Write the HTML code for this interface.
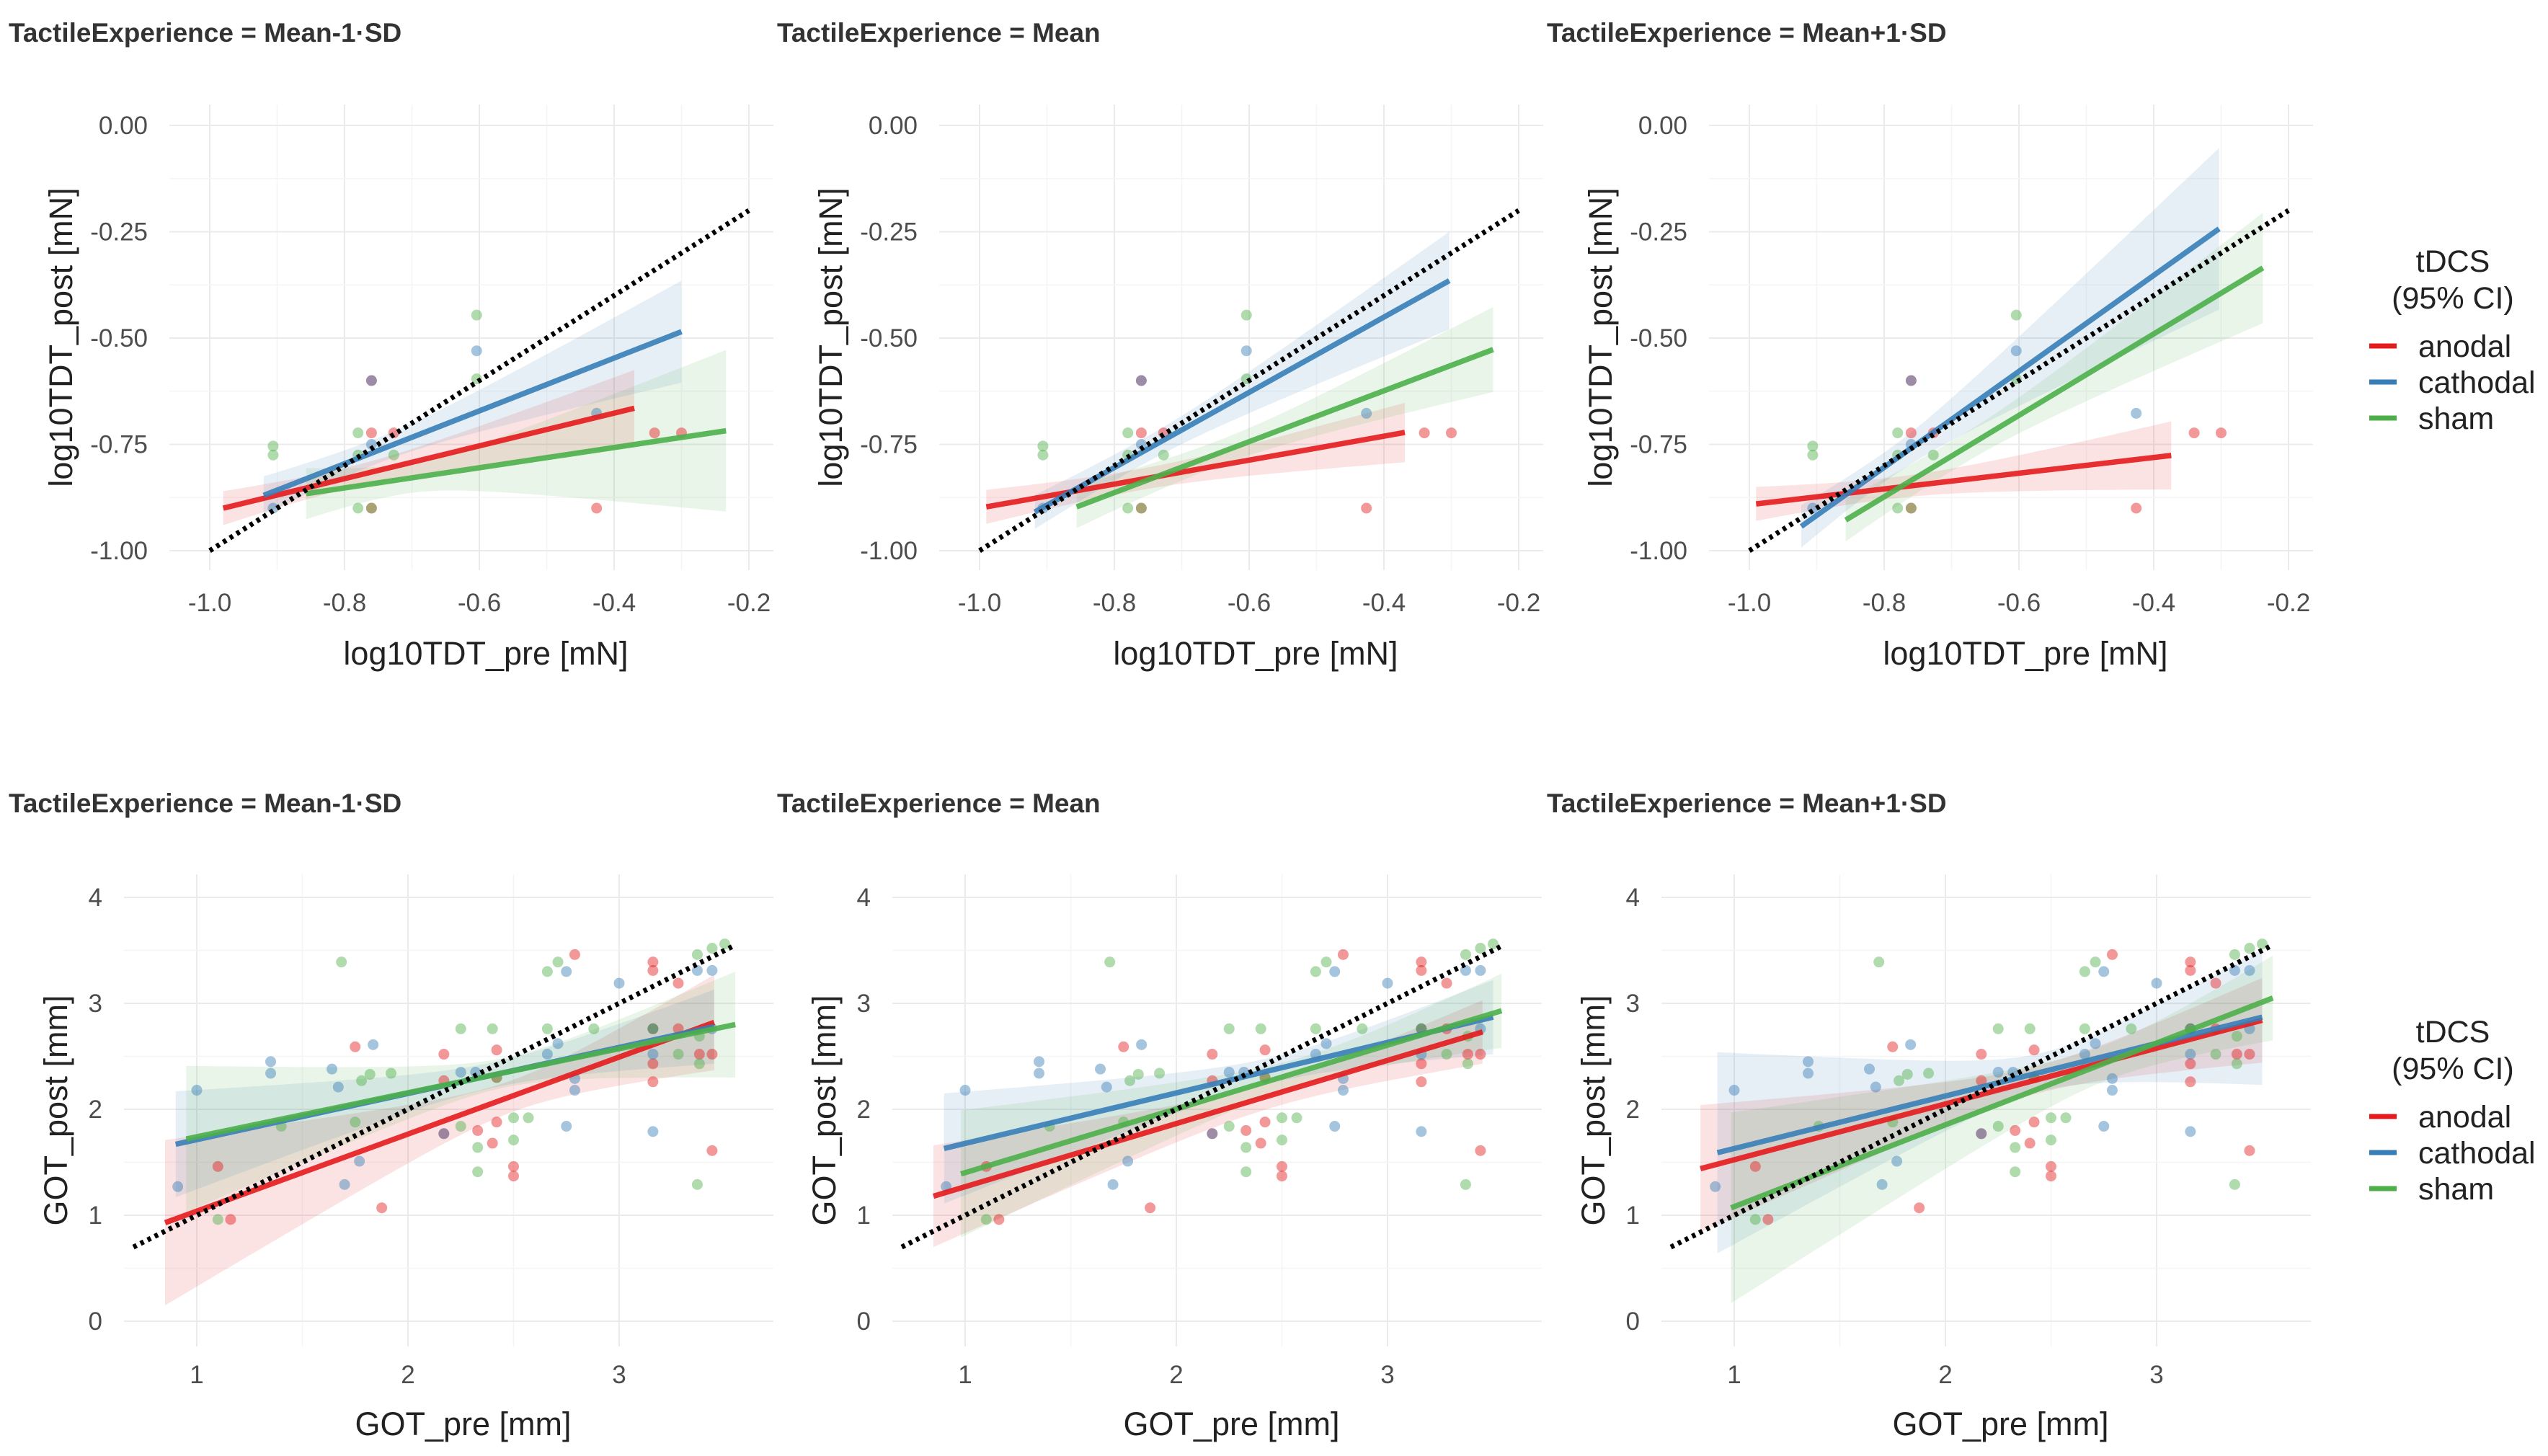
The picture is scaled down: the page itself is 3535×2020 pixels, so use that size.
<!DOCTYPE html>
<html><head><meta charset="utf-8"><style>
html,body{margin:0;padding:0;background:#fff;}
svg{display:block;font-family:"Liberation Sans",sans-serif;}
</style></head><body>
<svg id="chart" width="3535" height="2020" viewBox="0 0 3535 2020" xmlns="http://www.w3.org/2000/svg"></svg>
<script>
// ---- data ----
const facetLabels = ["TactileExperience = Mean-1·SD","TactileExperience = Mean","TactileExperience = Mean+1·SD"];
const groups = ["anodal","cathodal","sham"];
const topXTicks = [-1.0,-0.8,-0.6,-0.4,-0.2];
const topXTickLabels = ["-1.0","-0.8","-0.6","-0.4","-0.2"];
const topYTicks = [0,-0.25,-0.5,-0.75,-1.0];
const topYTickLabels = ["0.00","-0.25","-0.50","-0.75","-1.00"];
const botXTicks = [1,2,3];
const botXTickLabels = ["1","2","3"];
const botYTicks = [0,1,2,3,4];
const botYTickLabels = ["0","1","2","3","4"];
// top points (x, y) per group
const topAnodalX = [-0.76,-0.76,-0.727,-0.34,-0.30,-0.76,-0.426];
const topAnodalY = [-0.60,-0.723,-0.723,-0.723,-0.723,-0.90,-0.90];
const topCathodalX = [-0.604,-0.76,-0.426,-0.76,-0.906];
const topCathodalY = [-0.53,-0.60,-0.677,-0.75,-0.90];
const topShamX = [-0.604,-0.604,-0.78,-0.906,-0.906,-0.727,-0.78,-0.76,-0.78];
const topShamY = [-0.446,-0.596,-0.723,-0.754,-0.775,-0.775,-0.90,-0.90,-0.775];
// bottom points
const botAnodalX = [2.79,3.16,3.16,3.28,1.75,2.17,2.17,2.42,3.16,3.28,3.16,3.16,3.38,3.44,1.10,1.16,1.876,2.17,2.33,2.40,2.42,2.50,2.50,3.44,2.42];
const botAnodalY = [3.46,3.39,3.31,3.19,2.59,2.52,2.27,2.56,2.76,2.76,2.43,2.26,2.52,2.52,1.46,0.96,1.07,1.77,1.80,1.68,1.88,1.46,1.37,1.61,2.30];
const botCathodalX = [2.75,3.37,3.44,3.0,1.0,1.35,1.35,1.835,1.64,1.67,2.25,2.32,2.66,2.71,2.79,2.79,3.16,3.44,1.77,1.70,0.91,2.17,2.75,3.16,3.16];
const botCathodalY = [3.30,3.31,3.31,3.19,2.18,2.45,2.34,2.61,2.38,2.21,2.35,2.35,2.52,2.62,2.29,2.18,2.52,2.76,1.51,1.29,1.27,1.77,1.84,1.79,2.76];
const botShamX = [1.685,2.66,2.71,3.37,3.44,3.50,1.78,1.82,1.92,2.25,2.40,2.66,2.88,3.28,3.38,3.38,3.16,1.75,1.10,1.40,2.25,2.33,2.33,2.50,2.57,2.50,3.37,2.42];
const botShamY = [3.39,3.30,3.39,3.46,3.52,3.56,2.27,2.33,2.34,2.76,2.76,2.76,2.76,2.52,2.69,2.43,2.76,1.88,0.96,1.84,1.84,1.64,1.41,1.92,1.92,1.71,1.29,2.30];
// regression fits: per facet, per group [x0, y0, x1, y1]
const topFits = [
 [[-0.98,-0.90,-0.37,-0.665],[-0.92,-0.87,-0.30,-0.485],[-0.857,-0.866,-0.234,-0.718]],
 [[-0.99,-0.897,-0.369,-0.722],[-0.918,-0.909,-0.303,-0.365],[-0.856,-0.897,-0.238,-0.527]],
 [[-0.99,-0.89,-0.374,-0.776],[-0.923,-0.943,-0.303,-0.243],[-0.857,-0.928,-0.238,-0.335]]
];
// CI half widths: [left, min, right]
const topBands = [
 [[0.04,0.025,0.09],[0.045,0.03,0.12],[0.06,0.035,0.19]],
 [[0.04,0.025,0.07],[0.04,0.03,0.115],[0.05,0.03,0.10]],
 [[0.04,0.025,0.08],[0.05,0.035,0.19],[0.05,0.035,0.13]]
];
const botFits = [
 [[0.85,0.93,3.45,2.82],[0.9,1.67,3.45,2.78],[0.95,1.72,3.55,2.80]],
 [[0.85,1.18,3.45,2.73],[0.9,1.63,3.5,2.87],[0.98,1.39,3.54,2.93]],
 [[0.84,1.44,3.5,2.84],[0.92,1.59,3.5,2.87],[0.985,1.07,3.55,3.05]]
];
const botBands = [
 [[0.78,0.15,0.45],[0.5,0.12,0.35],[0.69,0.14,0.5]],
 [[0.48,0.12,0.3],[0.52,0.12,0.35],[0.6,0.13,0.35]],
 [[0.6,0.13,0.4],[0.95,0.18,0.64],[0.9,0.17,0.4]]
];
// ---- rendering ----
const NS="http://www.w3.org/2000/svg";
const svg=document.getElementById('chart');
const colors=["#E41A1C","#377EB8","#4DAF4A"];
function mk(tag,attrs,parent){const e=document.createElementNS(NS,tag);for(const k in attrs)e.setAttribute(k,attrs[k]);(parent||svg).appendChild(e);return e;}
function txt(s,attrs,parent){const e=mk('text',attrs,parent);e.textContent=s;return e;}

const rows=[
 {x0pix:[291,1359,2427],xUnit:935,xRef:-1.0,region:[235-291,1073-291,145,791],
  xt:topXTicks,xtl:topXTickLabels,yt:topYTicks,ytl:topYTickLabels,xTitle:"log10TDT_pre [mN]",yTitle:"log10TDT_post [mN]",
  titleY:45,xtY:836,xTitleY:906,fits:topFits,bands:topBands,
  pts:[[topAnodalX,topAnodalY],[topCathodalX,topCathodalY],[topShamX,topShamY]],diag:[-1.0,-0.2],legendY:0,key:'top'},
 {x0pix:[273,1339,2406],xUnit:293,xRef:1,region:[172-273,1073-273,1213,1868],
  xt:botXTicks,xtl:botXTickLabels,yt:botYTicks,ytl:botYTickLabels,xTitle:"GOT_pre [mm]",yTitle:"GOT_post [mm]",
  titleY:1114,xtY:1907,xTitleY:1975,fits:botFits,bands:botBands,
  pts:[[botAnodalX,botAnodalY],[botCathodalX,botCathodalY],[botShamX,botShamY]],diag:[0.7,3.55],legendY:1069,key:'bottom'}
];
const titleX=[12,1078,2146];

rows.forEach((r,ri)=>{
 for(let p=0;p<3;p++){
  const g=mk('g',{});
  
  
  const xs=v=>r.x0pix[p]+(v-r.xRef)*r.xUnit;
  const Y = r.key==='top' ? (v=>174+(-v)*590) : (v=>1833-v*147);
  const L=r.x0pix[p]+r.region[0], R=r.x0pix[p]+r.region[1], T=r.region[2], B=r.region[3];
  r.xt.forEach((t,i)=>{
   const gl=mk('line',{x1:xs(t),x2:xs(t),y1:T,y2:B,stroke:"#ebebeb","stroke-width":2},g);
   
   
   if(i<r.xt.length-1){const m=(t+r.xt[i+1])/2;const ml=mk('line',{x1:xs(m),x2:xs(m),y1:T,y2:B,stroke:"#f5f5f5","stroke-width":1.5},g);
    }
   const tl=txt(r.xtl[i],{x:xs(t),y:r.xtY+12,"text-anchor":"middle","font-size":35,fill:"#4d4d4d"},g);
   
   
  });
  r.yt.forEach((t,i)=>{
   const gl=mk('line',{x1:L,x2:R,y1:Y(t),y2:Y(t),stroke:"#ebebeb","stroke-width":2},g);
   
   
   if(i<r.yt.length-1){const m=(t+r.yt[i+1])/2;const ml=mk('line',{x1:L,x2:R,y1:Y(m),y2:Y(m),stroke:"#f5f5f5","stroke-width":1.5},g);
    }
   const tl=txt(r.ytl[i],{x:L-30,y:Y(t)+12,"text-anchor":"end","font-size":35,fill:"#4d4d4d"},g);
   
   
  });
  for(let s=0;s<3;s++){
   const f=r.fits[p][s], b=r.bands[p][s];
   const bx0=f[0], bx1=f[2];
   const slope=(f[3]-f[1])/(f[2]-f[0]);
   const xm=bx0+(bx1-bx0)*(b[0]/(b[0]+b[2]));
   const up=[],lo=[];
   for(let k=0;k<=40;k++){
    const x=bx0+(bx1-bx0)*k/40;
    const yv=f[1]+slope*(x-f[0]);
    let h;
    if(x<=xm){const u=(xm-x)/(xm-bx0);h=Math.sqrt(b[1]*b[1]+(b[0]*b[0]-b[1]*b[1])*u*u);}
    else{const u=(x-xm)/(bx1-xm);h=Math.sqrt(b[1]*b[1]+(b[2]*b[2]-b[1]*b[1])*u*u);}
    up.push(xs(x).toFixed(1)+","+Y(yv+h).toFixed(1));
    lo.unshift(xs(x).toFixed(1)+","+Y(yv-h).toFixed(1));
   }
   const bp=mk('polygon',{points:up.concat(lo).join(" "),fill:colors[s],"fill-opacity":0.12},g);
   
   
  }
  for(let s=0;s<3;s++){
   const [px,py]=r.pts[s];
   for(let k=0;k<px.length;k++){
    const c=mk('circle',{cx:xs(px[k]),cy:Y(py[k]),r:7.5,fill:colors[s],"fill-opacity":0.45},g);
    
    
   }
  }
  for(let s=0;s<3;s++){
   const f=r.fits[p][s];
   const ln=mk('line',{x1:xs(f[0]),y1:Y(f[1]),x2:xs(f[2]),y2:Y(f[3]),stroke:colors[s],"stroke-width":7.5,"stroke-opacity":0.9},g);
   
   
  }
  const d=r.diag;
  const dl=mk('line',{x1:xs(d[0]),y1:Y(d[0]),x2:xs(d[1]),y2:Y(d[1]),stroke:"#000","stroke-width":7,"stroke-dasharray":"5 6"},g);
  
  
  const ft=txt(facetLabels[p],{x:titleX[p],y:r.titleY+13,"font-size":37,"font-weight":"bold",fill:"#333"},g);
  
  
  const xt=txt(r.xTitle,{x:(L+R)/2+20,y:r.xTitleY+16,"text-anchor":"middle","font-size":45,fill:"#222"},g);
  
  
  const cy=(T+B)/2, cx=r.x0pix[p]-(r.key==='top'?207:196);
  const yt=txt(r.yTitle,{x:cx,y:cy,"text-anchor":"middle","font-size":45,fill:"#222",transform:`rotate(-90 ${cx} ${cy}) translate(0 16)`},g);
  
  
 }
 const lg=mk('g',{});
 
 
 const o=r.legendY;
 const t1=txt("tDCS",{x:3403,y:362+o+15,"text-anchor":"middle","font-size":43,fill:"#222"},lg);
 
 
 const t2=txt("(95% CI)",{x:3403,y:413+o+15,"text-anchor":"middle","font-size":43,fill:"#222"},lg);
 
 
 const ly=[480,530,580];
 for(let s=0;s<3;s++){
  const e=mk('g',{},lg);
  
  
  mk('line',{x1:3287,x2:3325,y1:ly[s]+o,y2:ly[s]+o,stroke:colors[s],"stroke-width":7},e);
  txt(groups[s],{x:3355,y:ly[s]+o+15,"font-size":43,fill:"#222"},e);
 }
});
</script>
</body></html>
